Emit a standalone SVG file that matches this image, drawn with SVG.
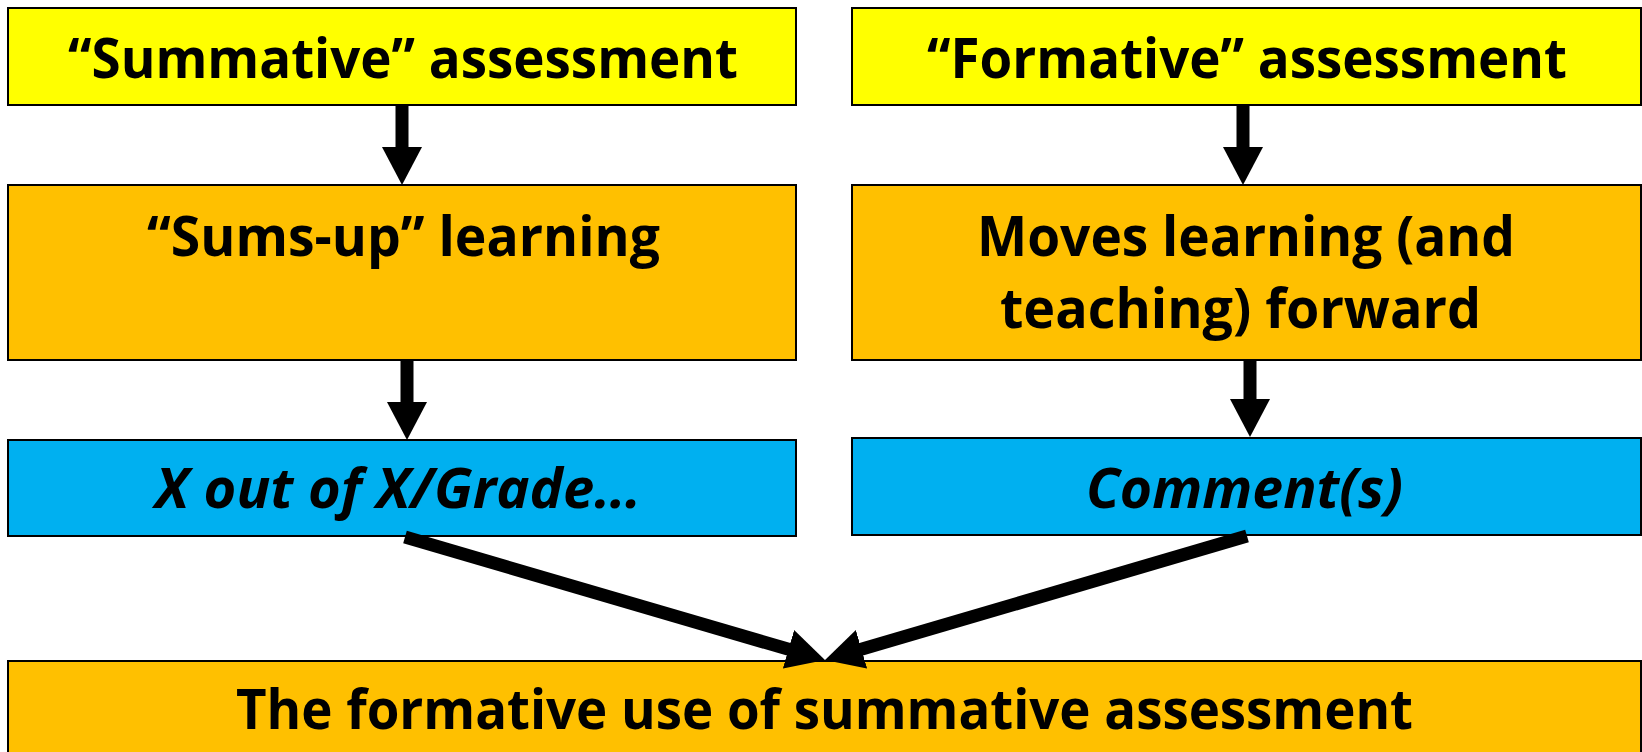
<svg xmlns="http://www.w3.org/2000/svg" width="1642" height="752" viewBox="0 0 1642 752">
<style>
.box{stroke:#000;stroke-width:2}
.y{fill:#FFFF00}.o{fill:#FFC000}.b{fill:#00B0F0}
.t{font-family:"Open Sans","Noto Sans","Liberation Sans",sans-serif;font-weight:bold;font-size:56px;fill:#000}
.i{font-style:italic}
.c{stroke:#000;stroke-width:13;fill:none;marker-end:url(#ah)}
</style>
<defs>
<marker id="ah" viewBox="0 0 38 40" refX="10" refY="20" markerWidth="38" markerHeight="40" markerUnits="userSpaceOnUse" orient="auto">
<path d="M0,0 L38,20 L0,40 Z" fill="#000"/>
</marker>
</defs>
<rect width="1642" height="752" fill="#fff"/>
<g id="summative">
<rect class="box y" x="8" y="8" width="788" height="97"/>
<text class="t" x="68" y="78" textLength="670" lengthAdjust="spacingAndGlyphs">“Summative” assessment</text>
</g>
<g id="formative">
<rect class="box y" x="852" y="8" width="789" height="97"/>
<text class="t" x="927" y="78" textLength="640" lengthAdjust="spacingAndGlyphs">“Formative” assessment</text>
</g>
<g id="sumsup">
<rect class="box o" x="8" y="185" width="788" height="175"/>
<text class="t" x="147" y="256" textLength="513" lengthAdjust="spacingAndGlyphs">“Sums-up” learning</text>
</g>
<g id="moves">
<rect class="box o" x="852" y="185" width="789" height="175"/>
<text class="t" x="977" y="256" textLength="538" lengthAdjust="spacingAndGlyphs">Moves learning (and</text>
<text class="t" x="1000" y="328" textLength="481" lengthAdjust="spacingAndGlyphs">teaching) forward</text>
</g>
<g id="grade">
<rect class="box b" x="8" y="440" width="788" height="96"/>
<text class="t i" x="155" y="508" textLength="486" lengthAdjust="spacingAndGlyphs">X out of X/Grade…</text>
</g>
<g id="comments">
<rect class="box b" x="852" y="438" width="789" height="97"/>
<text class="t i" x="1086" y="508" textLength="317" lengthAdjust="spacingAndGlyphs">Comment(s)</text>
</g>
<g id="formativeuse">
<rect class="box o" x="8" y="661" width="1633" height="100"/>
<text class="t" x="236" y="729" textLength="1177" lengthAdjust="spacingAndGlyphs">The formative use of summative assessment</text>
</g>
<g id="connectors">
<line class="c" x1="402" y1="105" x2="402" y2="157"/>
<line class="c" x1="1243" y1="105" x2="1243" y2="157"/>
<line class="c" x1="407" y1="360" x2="407" y2="412"/>
<line class="c" x1="1250" y1="360" x2="1250" y2="409"/>
<line class="c" x1="405" y1="537" x2="798.1" y2="652.1"/>
<line class="c" x1="1247" y1="536" x2="851.9" y2="652.1"/>
</g>
</svg>
